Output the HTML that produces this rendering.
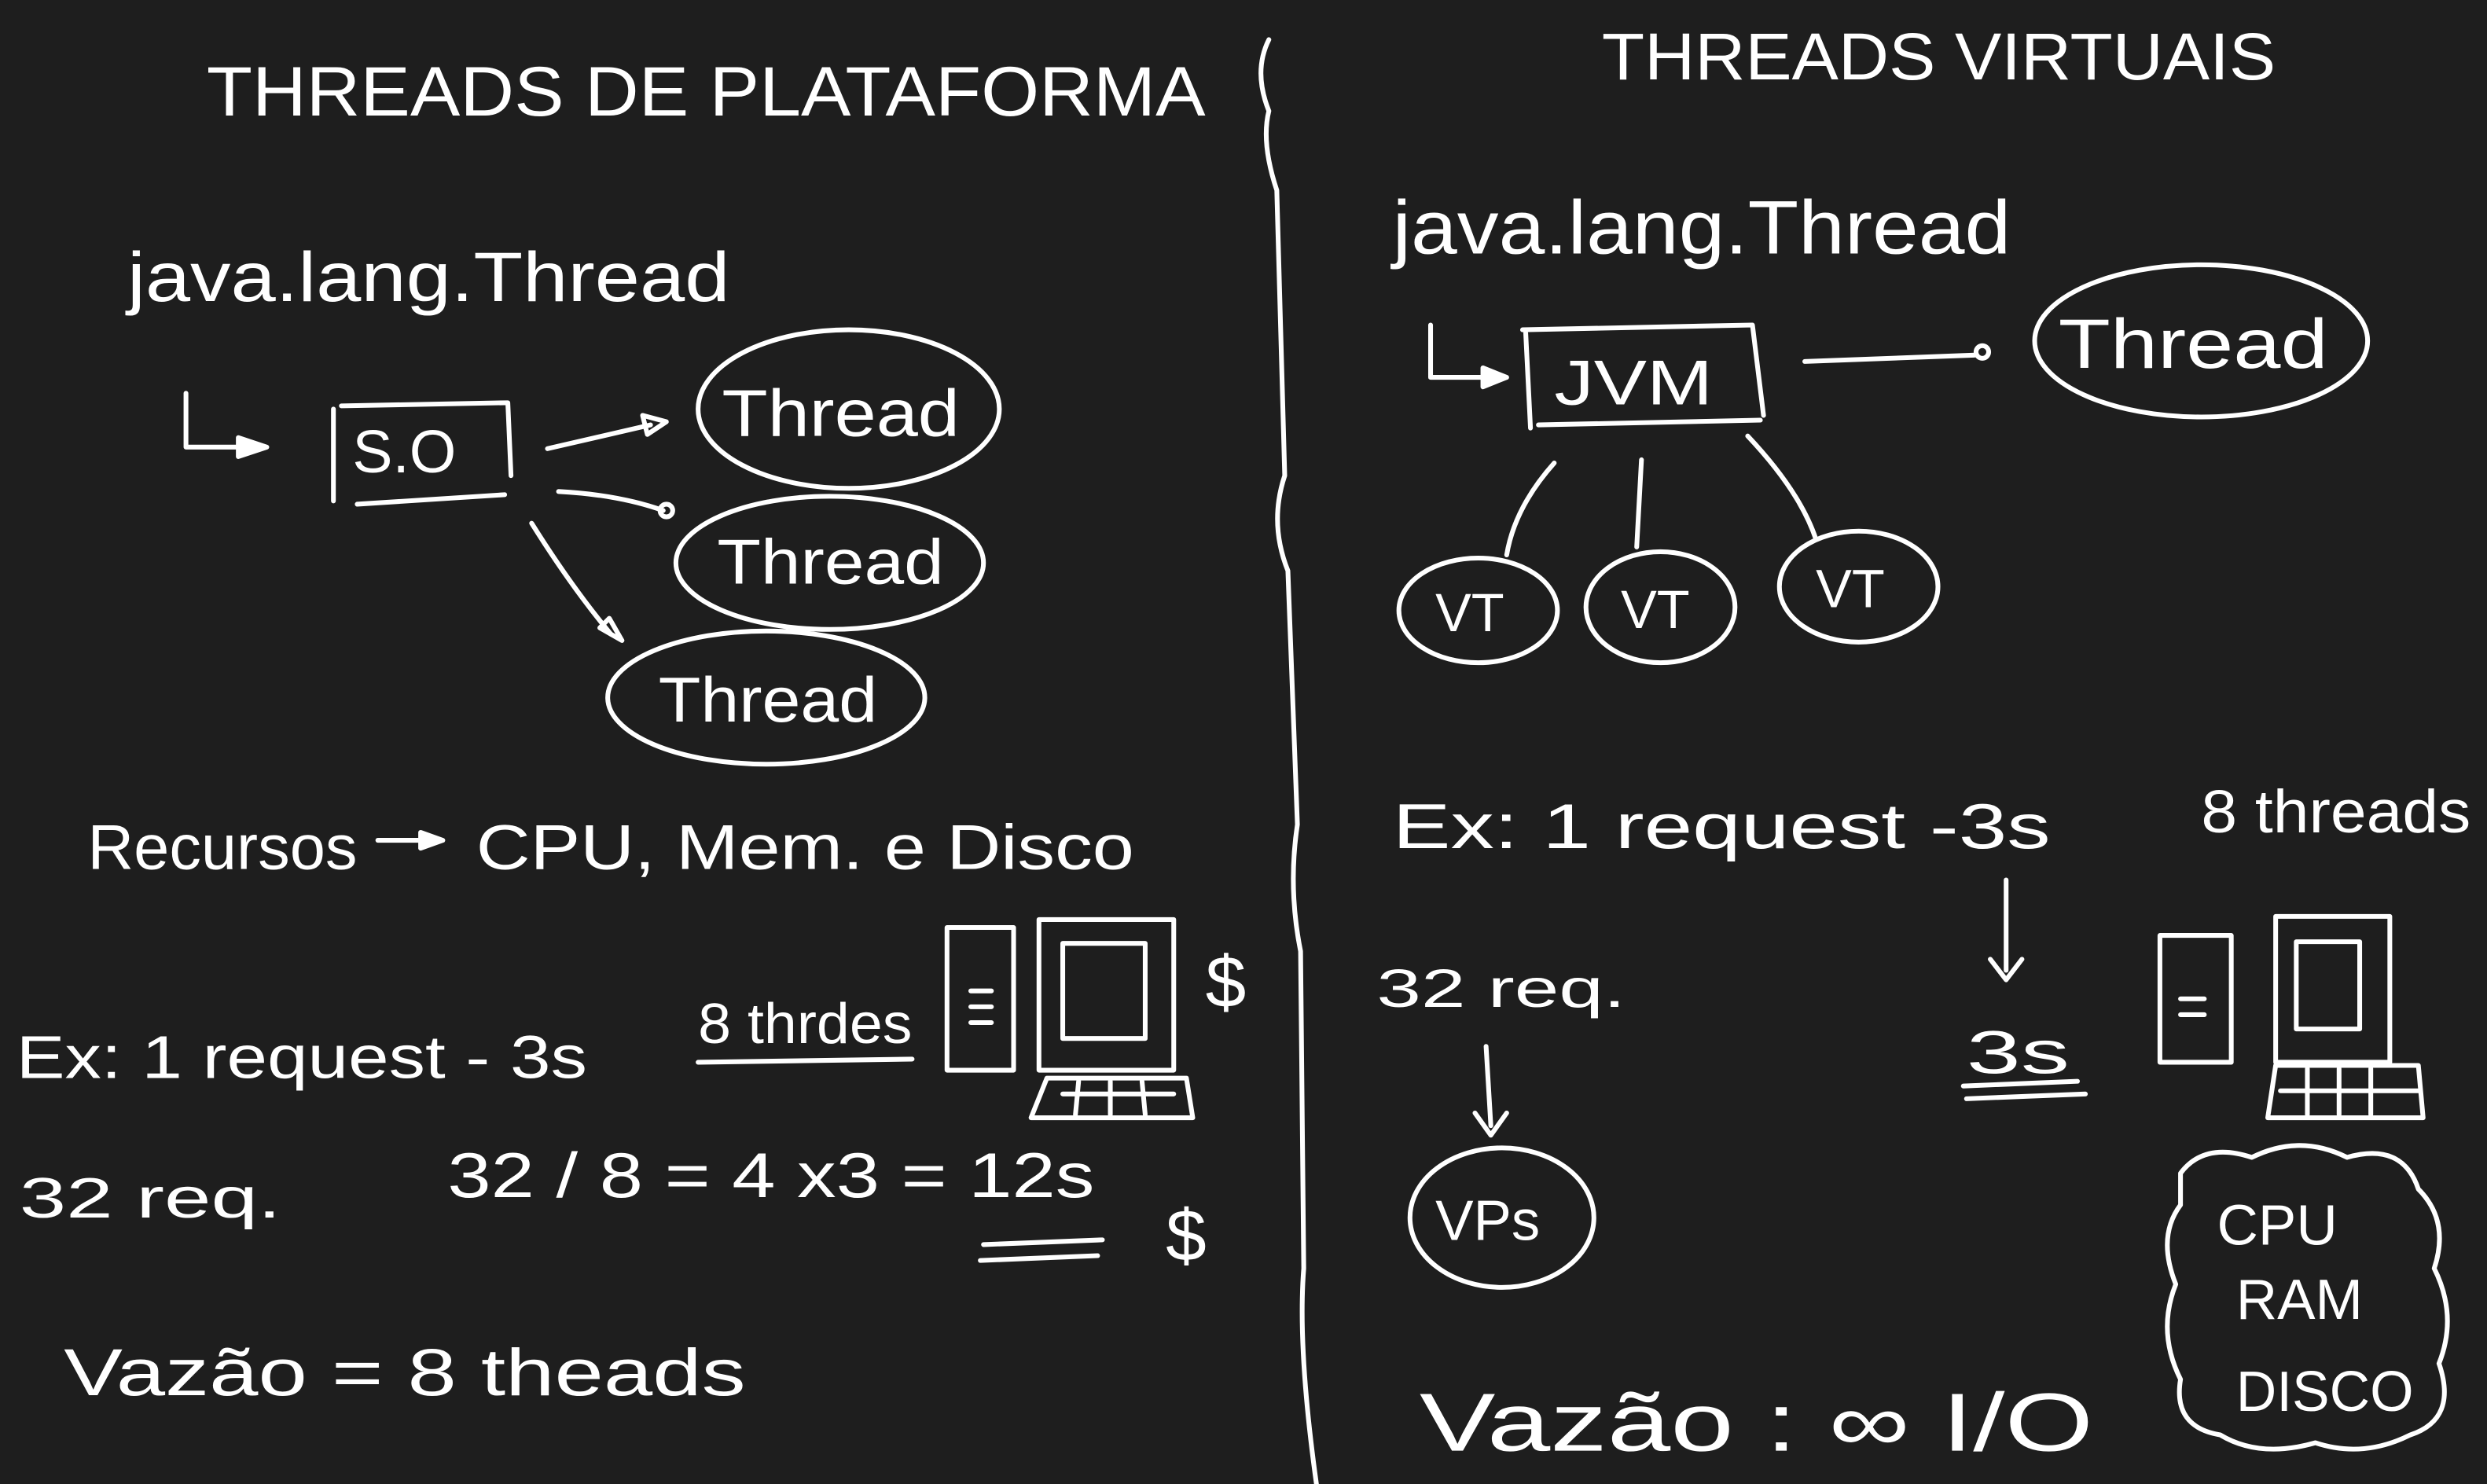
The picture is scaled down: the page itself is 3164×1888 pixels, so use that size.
<!DOCTYPE html>
<html><head><meta charset="utf-8"><style>
html,body{margin:0;padding:0;background:#1e1e1e;}
svg{display:block;}
text{fill:#fff;font-family:"Liberation Sans",sans-serif;}
</style></head><body>
<svg width="3164" height="1888" viewBox="0 0 1568 936" xmlns="http://www.w3.org/2000/svg">
<rect width="1568" height="936" fill="#1e1e1e"/>
<g fill="none" stroke="#fff" stroke-width="3" stroke-linecap="round" stroke-linejoin="round">
<path d="M800 25 Q790 45 800 70 Q795 90 805 120 L810 300 Q800 330 812 360 L818 520 Q812 560 820 600 L822 800 Q818 850 830 936"/>
<path d="M117 248 L117 282 L150 282"/><path d="M150 276 L168 282 L150 288 Z" fill="#fff"/>
<path d="M210 258 L210 316 M215 256 L320 254 L322 300 M225 318 L318 312"/>
<path d="M345 283 L410 268"/><path d="M405 262 L420 266 L408 274Z"/>
<path d="M352 310 Q390 312 418 322"/><circle cx="420" cy="322" r="4"/>
<path d="M335 330 Q360 370 385 400"/><path d="M378 396 L392 404 L384 390Z"/>
<ellipse cx="535" cy="258" rx="95" ry="50"/>
<ellipse cx="523" cy="355" rx="97" ry="42"/>
<ellipse cx="483" cy="440" rx="100" ry="42"/>
<path d="M238 530 L265 530"/><path d="M265 525 L279 530 L265 535Z" fill="#fff"/>
<path d="M440 670 L575 668"/>
<rect x="597" y="585" width="42" height="90"/><rect x="655" y="580" width="85" height="95"/><rect x="670" y="595" width="52" height="60"/>
<path d="M660 680 L748 680 L752 705 L650 705 Z M670 690 L740 690 M680 682 L678 703 M700 682 L700 703 M720 682 L722 703"/>
<path d="M612 625 L625 625 M612 635 L625 635 M612 645 L625 645"/>
<path d="M620 785 L695 782 M618 795 L692 792"/>
<path d="M902 205 L902 238 L935 238"/><path d="M935 232 L950 238 L935 244Z" fill="#fff"/>
<path d="M962 210 L965 270 M960 208 L1105 205 L1112 262 M970 268 L1110 265"/>
<path d="M1138 228 L1245 224"/><circle cx="1250" cy="222" r="4"/>
<ellipse cx="1388" cy="215" rx="105" ry="48"/>
<path d="M980 292 Q955 320 950 350 M1035 290 L1032 345 M1102 275 Q1135 310 1145 340"/>
<ellipse cx="932" cy="385" rx="50" ry="33"/>
<ellipse cx="1047" cy="383" rx="47" ry="35"/>
<ellipse cx="1172" cy="370" rx="50" ry="35"/>
<path d="M1265 555 L1265 612"/><path d="M1255 605 L1265 618 L1275 605"/>
<path d="M1238 685 L1310 682 M1240 693 L1315 690"/>
<path d="M937 660 L940 710"/><path d="M930 702 L940 716 L950 702"/>
<ellipse cx="947" cy="768" rx="58" ry="44"/>
<rect x="1362" y="590" width="45" height="80"/><rect x="1435" y="578" width="72" height="92"/><rect x="1448" y="594" width="40" height="55"/>
<path d="M1435 672 L1525 672 L1528 705 L1430 705 Z M1438 688 L1525 688 M1455 674 L1455 703 M1475 674 L1475 703 M1495 674 L1495 703"/>
<path d="M1375 630 L1390 630 M1375 640 L1390 640"/>
<path d="M1375 740 Q1390 720 1420 730 Q1450 715 1480 730 Q1515 720 1525 750 Q1545 770 1535 800 Q1550 830 1538 860 Q1550 895 1520 905 Q1490 920 1460 910 Q1425 920 1400 905 Q1370 900 1375 870 Q1360 840 1372 810 Q1360 780 1375 760 Z"/>
</g>
<g lengthAdjust="spacingAndGlyphs">
<text x="130" y="73" font-size="44" textLength="630" lengthAdjust="spacingAndGlyphs">THREADS DE PLATAFORMA</text>
<text x="1010" y="50" font-size="42" textLength="425" lengthAdjust="spacingAndGlyphs">THREADS VIRTUAIS</text>
<text x="80" y="190" font-size="44" textLength="380" lengthAdjust="spacingAndGlyphs">java.lang.Thread</text>
<text x="222" y="298" font-size="38">S.O</text>
<text x="455" y="275" font-size="42" textLength="150" lengthAdjust="spacingAndGlyphs">Thread</text>
<text x="452" y="368" font-size="40" textLength="143" lengthAdjust="spacingAndGlyphs">Thread</text>
<text x="415" y="455" font-size="40" textLength="138" lengthAdjust="spacingAndGlyphs">Thread</text>
<text x="55" y="548" font-size="40" textLength="170" lengthAdjust="spacingAndGlyphs">Recursos</text>
<text x="300" y="548" font-size="40" textLength="415" lengthAdjust="spacingAndGlyphs">CPU, Mem. e Disco</text>
<text x="10" y="680" font-size="38" textLength="360" lengthAdjust="spacingAndGlyphs">Ex: 1 request - 3s</text>
<text x="440" y="658" font-size="36" textLength="135" lengthAdjust="spacingAndGlyphs">8 thrdes</text>
<text x="760" y="635" font-size="46">$</text>
<text x="12" y="768" font-size="36" textLength="165" lengthAdjust="spacingAndGlyphs">32 req.</text>
<text x="282" y="755" font-size="40" textLength="408" lengthAdjust="spacingAndGlyphs">32 / 8  = 4 x3 = 12s</text>
<text x="735" y="795" font-size="46">$</text>
<text x="40" y="880" font-size="42" textLength="430" lengthAdjust="spacingAndGlyphs">Vazão =  8 theads</text>
<text x="878" y="160" font-size="48" textLength="390" lengthAdjust="spacingAndGlyphs">java.lang.Thread</text>
<text x="980" y="255" font-size="40" textLength="100" lengthAdjust="spacingAndGlyphs">JVM</text>
<text x="1298" y="232" font-size="44" textLength="170" lengthAdjust="spacingAndGlyphs">Thread</text>
<text x="905" y="398" font-size="34">VT</text>
<text x="1022" y="396" font-size="34">VT</text>
<text x="1145" y="383" font-size="34">VT</text>
<text x="878" y="535" font-size="40" textLength="415" lengthAdjust="spacingAndGlyphs">Ex: 1 request -3s</text>
<text x="1388" y="525" font-size="38" textLength="170" lengthAdjust="spacingAndGlyphs">8 threads</text>
<text x="868" y="635" font-size="34" textLength="157" lengthAdjust="spacingAndGlyphs">32 req.</text>
<text x="1240" y="677" font-size="38" textLength="65" lengthAdjust="spacingAndGlyphs">3s</text>
<text x="905" y="782" font-size="36">VPs</text>
<text x="1398" y="785" font-size="36">CPU</text>
<text x="1410" y="832" font-size="36">RAM</text>
<text x="1410" y="890" font-size="36" textLength="112" lengthAdjust="spacingAndGlyphs">DISCO</text>
<text x="895" y="915" font-size="52" textLength="425" lengthAdjust="spacingAndGlyphs">Vazão : ∞  I/O</text>
</g>
</svg>
</body></html>
